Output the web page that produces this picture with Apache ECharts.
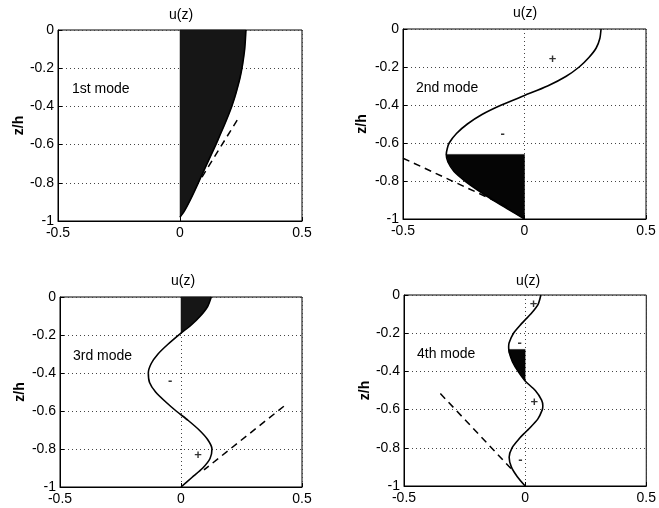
<!DOCTYPE html>
<html><head><meta charset="utf-8">
<script src="https://cdn.jsdelivr.net/npm/echarts@6/dist/echarts.min.js"></script>
<style>html,body{margin:0;padding:0;background:#fff}#c{width:659px;height:508px}</style>
</head><body><div id="c"></div>
<script>
// ---- data ----
const xTicks = [-0.5, 0, 0.5];
const yTicks = [0, -0.2, -0.4, -0.6, -0.8, -1];
const modeNames = ['1st mode', '2nd mode', '3rd mode', '4th mode'];
const axisTitle = 'u(z)';
const yTitle = 'z/h';

// mode 1 profile u(z)
const mode1Z = [0, -0.05, -0.1, -0.15, -0.2, -0.25, -0.3, -0.35, -0.4, -0.45, -0.5, -0.55, -0.6, -0.65, -0.7, -0.75, -0.8, -0.85, -0.9, -0.95, -0.98];
const mode1U = [0.27, 0.268, 0.265, 0.26, 0.254, 0.246, 0.236, 0.225, 0.212, 0.197, 0.181, 0.164, 0.147, 0.129, 0.111, 0.093, 0.075, 0.057, 0.038, 0.017, 0.0];
const mode1DashU = [0.09, 0.24];
const mode1DashZ = [-0.77, -0.46];
const mode1FillZ = [0, -0.98];

// mode 2 profile
const mode2Z = [0, -0.05, -0.1, -0.15, -0.2, -0.25, -0.3, -0.35, -0.4, -0.45, -0.5, -0.55, -0.6, -0.63, -0.66, -0.7, -0.75, -0.8, -0.85, -0.9, -0.95, -1];
const mode2U = [0.315, 0.31, 0.295, 0.265, 0.225, 0.17, 0.095, 0.0, -0.095, -0.175, -0.235, -0.28, -0.31, -0.318, -0.322, -0.315, -0.29, -0.245, -0.19, -0.13, -0.065, 0.0];
const mode2DashU = [-0.5, -0.07];
const mode2DashZ = [-0.68, -0.935];
const mode2FillZ = [-0.66, -1];
const mode2SignU = [0.115, -0.09];
const mode2SignZ = [-0.16, -0.555];
const mode2Sign = ['+', '-'];

// mode 3 profile
const mode3Z = [0, -0.05, -0.1, -0.15, -0.19, -0.25, -0.3, -0.35, -0.4, -0.45, -0.5, -0.55, -0.6, -0.65, -0.7, -0.75, -0.8, -0.85, -0.9, -0.95, -1];
const mode3U = [0.125, 0.11, 0.08, 0.04, 0.0, -0.055, -0.095, -0.123, -0.135, -0.13, -0.105, -0.065, -0.02, 0.03, 0.075, 0.11, 0.128, 0.12, 0.09, 0.045, 0.0];
const mode3DashU = [0.425, 0.095];
const mode3DashZ = [-0.575, -0.91];
const mode3FillZ = [0, -0.19];
const mode3SignU = [0.07, -0.045];
const mode3SignZ = [-0.835, -0.443];
const mode3Sign = ['+', '-'];

// mode 4 profile
const mode4Z = [0, -0.05, -0.1, -0.13, -0.15, -0.2, -0.25, -0.27, -0.285, -0.3, -0.35, -0.4, -0.45, -0.5, -0.55, -0.58, -0.6, -0.65, -0.7, -0.72, -0.75, -0.8, -0.85, -0.9, -0.95, -1];
const mode4U = [0.065, 0.053, 0.023, 0.0, -0.015, -0.048, -0.066, -0.068, -0.0675, -0.066, -0.052, -0.029, 0.0, 0.042, 0.068, 0.073, 0.071, 0.052, 0.016, 0.0, -0.023, -0.054, -0.066, -0.057, -0.033, 0.0];
const mode4DashU = [-0.35, -0.05];
const mode4DashZ = [-0.516, -0.92];
const mode4FillZ = [-0.285, -0.45];
const mode4SignU = [0.035, -0.023, 0.038, -0.019];
const mode4SignZ = [-0.05, -0.256, -0.563, -0.867];
const mode4Sign = ['+', '-', '+', '-'];

// ---- layout / style ----
const grids = [
  {left: 58, top: 30, width: 244, height: 191},
  {left: 403, top: 29, width: 243, height: 190},
  {left: 60, top: 297, width: 242, height: 190},
  {left: 404, top: 295, width: 243, height: 191}
];
const nameGaps = [31, 34, 33, 31];
const titlePos = [[181, 15], [525, 13], [183, 281], [528, 281]];
const modePos = [[72, 89], [416, 88], [73, 356], [417, 354]];
const fillColors = ['#161616', '#050505', '#161616', '#050505'];
const FONT = 'Liberation Sans, Arial, Helvetica, sans-serif';
const FS = 14;

const modes = [
  {z: mode1Z, u: mode1U, du: mode1DashU, dz: mode1DashZ, fz: mode1FillZ, su: [], sz: [], s: []},
  {z: mode2Z, u: mode2U, du: mode2DashU, dz: mode2DashZ, fz: mode2FillZ, su: mode2SignU, sz: mode2SignZ, s: mode2Sign},
  {z: mode3Z, u: mode3U, du: mode3DashU, dz: mode3DashZ, fz: mode3FillZ, su: mode3SignU, sz: mode3SignZ, s: mode3Sign},
  {z: mode4Z, u: mode4U, du: mode4DashU, dz: mode4DashZ, fz: mode4FillZ, su: mode4SignU, sz: mode4SignZ, s: mode4Sign}
];

function fmt(v) { return v === 0 ? '0' : String(+v.toFixed(1)); }

const option = {
  animation: false,
  backgroundColor: '#fff',
  textStyle: {fontFamily: FONT},
  grid: grids.map(g => Object.assign({show: true, borderColor: '#000', borderWidth: 1, backgroundColor: 'transparent'}, g)),
  xAxis: grids.map((g, i) => ({
    type: 'value', gridIndex: i, min: xTicks[0], max: xTicks[xTicks.length - 1], interval: xTicks[1] - xTicks[0],
    axisLine: {show: true, onZero: false, lineStyle: {color: '#000', width: 1}},
    axisTick: {show: true, inside: true, length: 4, lineStyle: {color: '#000'}},
    axisLabel: {color: '#000', fontSize: FS, margin: 5, fontFamily: FONT, formatter: fmt},
    splitLine: {show: true, lineStyle: {color: '#444', type: [1, 3], width: 1}}
  })),
  yAxis: grids.map((g, i) => ({
    type: 'value', gridIndex: i, min: yTicks[yTicks.length - 1], max: yTicks[0], interval: Math.abs(yTicks[1] - yTicks[0]),
    name: yTitle, nameLocation: 'middle', nameGap: nameGaps[i], nameRotate: 90,
    nameTextStyle: {color: '#000', fontSize: FS, fontWeight: 'bold', fontFamily: FONT},
    axisLine: {show: true, onZero: false, lineStyle: {color: '#000', width: 1}},
    axisTick: {show: true, inside: true, length: 4, lineStyle: {color: '#000'}},
    axisLabel: {color: '#000', fontSize: FS, margin: 4, fontFamily: FONT, formatter: fmt},
    splitLine: {show: true, lineStyle: {color: '#444', type: [1, 3], width: 1}}
  })),
  graphic: [],
  series: []
};

titlePos.forEach((p, i) => {
  option.graphic.push({type: 'text', x: p[0], y: p[1], z: 100,
    style: {text: axisTitle, fill: '#000', font: FS + 'px ' + FONT, textAlign: 'center', textVerticalAlign: 'middle'}});
  option.graphic.push({type: 'text', x: modePos[i][0], y: modePos[i][1], z: 100,
    style: {text: modeNames[i], fill: '#000', font: FS + 'px ' + FONT, textAlign: 'left', textVerticalAlign: 'middle'}});
});

modes.forEach((m, i) => {
  const curve = m.z.map((z, k) => [m.u[k], z]);
  // fill polygon between u=0 and the profile over the shaded depth range
  const zTop = m.fz[0], zBot = m.fz[1];
  const seg = curve.filter(p => p[1] <= zTop + 1e-9 && p[1] >= zBot - 1e-9);
  const poly = [[0, zTop]].concat(seg).concat([[0, zBot]]);
  option.series.push({
    type: 'custom', xAxisIndex: i, yAxisIndex: i, z: 2, silent: true,
    data: [[0, zTop]],
    renderItem: function (params, api) {
      return {type: 'polygon', shape: {points: poly.map(p => api.coord(p)), smooth: 0},
        style: {fill: fillColors[i], stroke: fillColors[i], lineWidth: 0.5}};
    }
  });
  option.series.push({
    type: 'line', xAxisIndex: i, yAxisIndex: i, z: 3, data: curve, showSymbol: false, smooth: 0.25,
    lineStyle: {color: '#000', width: 1.6}
  });
  option.series.push({
    type: 'line', xAxisIndex: i, yAxisIndex: i, z: 3,
    data: m.du.map((u, k) => [u, m.dz[k]]), showSymbol: false,
    lineStyle: {color: '#000', width: 1.5, type: [7, 5]}
  });
  if (m.s.length) {
    option.series.push({
      type: 'scatter', xAxisIndex: i, yAxisIndex: i, z: 4, symbolSize: 0,
      data: m.su.map((u, k) => [u, m.sz[k], m.s[k]]),
      label: {show: true, position: 'inside', formatter: p => p.value[2], color: '#000', fontSize: 13, fontWeight: 'bold', fontFamily: FONT}
    });
  }
});

const chart = echarts.init(document.getElementById('c'), null, {renderer: 'canvas'});
chart.setOption(option);
</script>
</body></html>
